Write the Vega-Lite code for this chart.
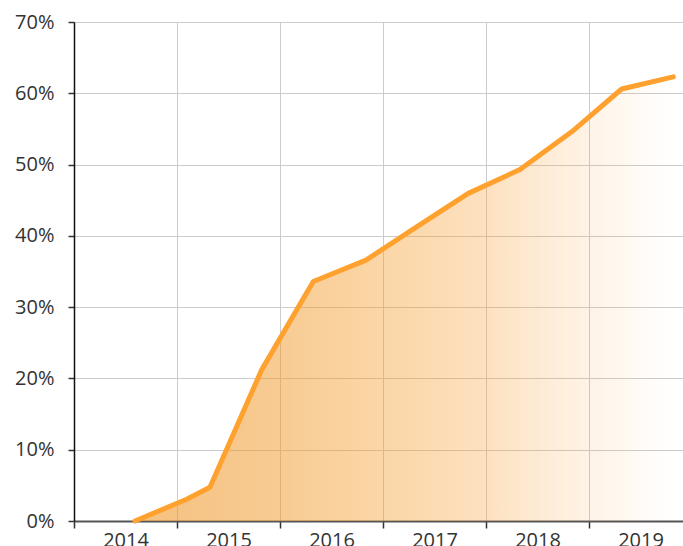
{
  "$schema": "https://vega.github.io/schema/vega-lite/v6.json",
  "width": 609,
  "height": 499,
  "autosize": "none",
  "padding": {"left": 74, "top": 22, "right": 0, "bottom": 25},
  "background": "white",
  "config": {
    "view": {"stroke": null},
    "font": "Open Sans"
  },
  "data": {
    "values": [
      {"year": 2014.592, "share": 0},
      {"year": 2015.094, "share": 3.05},
      {"year": 2015.32, "share": 4.73},
      {"year": 2015.822, "share": 21.2},
      {"year": 2016.323, "share": 33.6},
      {"year": 2016.835, "share": 36.6},
      {"year": 2017.33, "share": 41.3},
      {"year": 2017.828, "share": 45.96},
      {"year": 2018.33, "share": 49.3},
      {"year": 2018.832, "share": 54.6},
      {"year": 2019.317, "share": 60.6},
      {"year": 2019.818, "share": 62.3}
    ]
  },
  "encoding": {
    "x": {
      "field": "year",
      "type": "quantitative",
      "scale": {"domain": [2014, 2019.9126], "nice": false, "zero": false},
      "axis": {
        "title": null,
        "values": [2014, 2015, 2016, 2017, 2018, 2019],
        "labelExpr": "format(datum.value, 'd')",
        "labelOffset": 51.5,
        "labelFlush": false,
        "labelOverlap": false,
        "labelFontSize": 20,
        "labelColor": "#333333",
        "labelPadding": 2,
        "tickSize": 7,
        "tickColor": "#333333",
        "tickWidth": 1.5,
        "domainColor": "#555555",
        "domainWidth": 2,
        "grid": true,
        "gridColor": "#cccccc",
        "gridWidth": 1
      }
    },
    "y": {
      "field": "share",
      "type": "quantitative",
      "scale": {"domain": [0, 70], "nice": false},
      "axis": {
        "title": null,
        "values": [0, 10, 20, 30, 40, 50, 60, 70],
        "labelExpr": "datum.value + '%'",
        "labelFlush": false,
        "labelOverlap": false,
        "labelFontSize": 20,
        "labelColor": "#333333",
        "labelPadding": 14,
        "tickSize": 6,
        "tickColor": "#333333",
        "tickWidth": 1.5,
        "domainColor": "#111111",
        "domainWidth": 1.5,
        "grid": true,
        "gridColor": "#cccccc",
        "gridWidth": 1
      }
    }
  },
  "layer": [
    {
      "mark": {
        "type": "area",
        "color": {
          "gradient": "linear",
          "x1": 0, "y1": 0, "x2": 1, "y2": 0,
          "stops": [
            {"offset": 0, "color": "rgba(238,150,40,0.6)"},
            {"offset": 0.27, "color": "rgba(240,152,40,0.5)"},
            {"offset": 0.46, "color": "rgba(245,155,40,0.41)"},
            {"offset": 0.65, "color": "rgba(248,155,45,0.3)"},
            {"offset": 0.84, "color": "rgba(250,155,50,0.12)"},
            {"offset": 1, "color": "rgba(255,160,60,0)"}
          ]
        }
      }
    },
    {
      "mark": {
        "type": "line",
        "color": "#ffa12e",
        "strokeWidth": 5,
        "strokeCap": "round",
        "strokeJoin": "round"
      }
    }
  ]
}
